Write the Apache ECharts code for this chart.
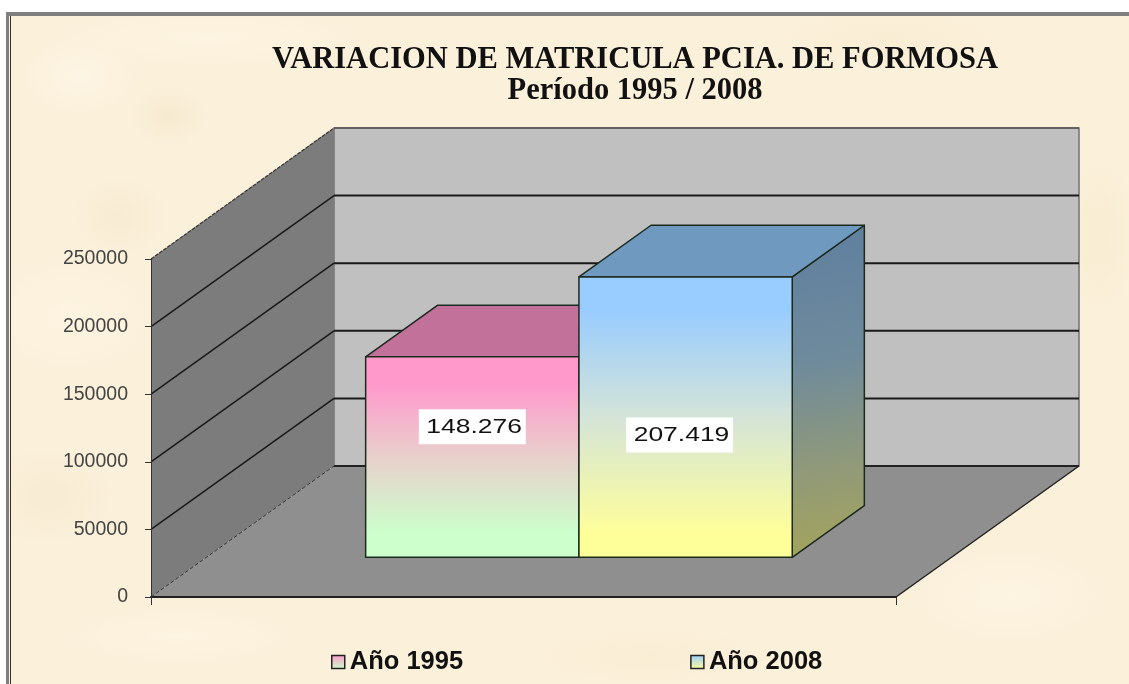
<!DOCTYPE html>
<html><head><meta charset="utf-8">
<style>
html,body{margin:0;padding:0;background:#fff;width:1129px;height:684px;overflow:hidden}
#paper{position:absolute;left:6px;top:12px;width:1123px;height:672px;box-sizing:border-box;
 border-top:4px solid #7f7f7f;border-left:3px solid #7f7f7f;
 background-color:#FBF0DA;
 background-image:
  radial-gradient(ellipse 40px 30px at 160px 100px,rgba(238,224,192,.4),transparent),
  radial-gradient(ellipse 60px 40px at 70px 60px,rgba(255,250,238,.5),transparent),
  radial-gradient(ellipse 50px 40px at 110px 200px,rgba(240,226,195,.35),transparent),
  radial-gradient(ellipse 90px 60px at 60px 300px,rgba(255,248,232,.5),transparent),
  radial-gradient(ellipse 120px 30px at 170px 620px,rgba(255,248,232,.5),transparent),
  radial-gradient(ellipse 70px 50px at 40px 480px,rgba(240,226,195,.35),transparent),
  radial-gradient(ellipse 40px 90px at 1090px 220px,rgba(245,232,200,.45),transparent),
  radial-gradient(ellipse 100px 50px at 1000px 580px,rgba(255,250,238,.4),transparent),
  radial-gradient(ellipse 140px 30px at 640px 640px,rgba(246,232,202,.35),transparent),
  radial-gradient(ellipse 160px 30px at 200px 22px,rgba(255,248,232,.5),transparent),
  radial-gradient(ellipse 130px 30px at 880px 22px,rgba(246,232,202,.4),transparent);
}
#paper:before{content:"";position:absolute;left:1px;top:0;bottom:0;width:1px;background:#333}
#chart{position:absolute;left:0;top:0;width:1129px;height:684px}
</style>
<script src="https://cdn.jsdelivr.net/npm/echarts@6/dist/echarts.min.js"></script>
</head><body>
<div id="paper"></div>
<div id="chart"></div>
<script>
const titleText = 'VARIACION DE MATRICULA PCIA. DE FORMOSA';
const subtitleText = 'Período 1995 / 2008';
const categories = [''];
const yTicks = [0, 50000, 100000, 150000, 200000, 250000];
const seriesNames = ['Año 1995', 'Año 2008'];
const values1995 = [148276];
const values2008 = [207419];
const labels1995 = ['148.276'];
const labels2008 = ['207.419'];

const DX = 183, DY = -131;
const BAR_W = 0.2863, D0 = 0.303, D1 = 0.697;
const LG = (x0,y0,x1,y1,stops) => new echarts.graphic.LinearGradient(x0,y0,x1,y1,stops.map((c,i)=>({offset:c[0],color:c[1]})));

const pinkFront = () => LG(0,0,0,1,[[0,'#FF99CC'],[0.14,'#FF99CC'],[0.5,'#E8D0CC'],[0.88,'#CCFFCC'],[1,'#CCFFCC']]);
const blueFront = () => LG(0,0,0,1,[[0,'#99CCFF'],[0.12,'#99CCFF'],[0.5,'#D4E4D8'],[0.92,'#FFFF99'],[1,'#FFFF99']]);

function projector(api){
  const bw = api.size([1,0])[0];
  return (fx, v, d) => {
    const c = api.coord([0, v]);
    return [c[0] + (fx-0.5)*bw + d*DX, c[1] + d*DY];
  };
}
function poly(points, style, z2){
  return {type:'polygon', shape:{points}, style, z2:z2||0, silent:true};
}
function line(a,b,stroke,w,dash){
  return {type:'line', shape:{x1:a[0],y1:a[1],x2:b[0],y2:b[1]}, style:{stroke,lineWidth:w,lineDash:dash||null}, silent:true};
}
function renderWalls(params, api){
  const v = api.value(0), P = projector(api), top = yTicks[yTicks.length-1];
  const ch = [];
  if (v === 0){
    ch.push(poly([P(0,top,1),P(1,top,1),P(1,0,1),P(0,0,1)],{fill:'#C0C0C0',stroke:'#707070',lineWidth:1.5}));
    ch.push(poly([P(0,top,0),P(0,top,1),P(0,0,1),P(0,0,0)],{fill:'#7C7C7C'}));
    ch.push(poly([P(0,0,0),P(0,0,1),P(1,0,1),P(1,0,0)],{fill:'#8F8F8F'}));
    ch.push(line(P(0,0,0),P(0,0,1),'#333',1,[4,2]));
    ch.push(line(P(1,0,0),P(1,0,1),'#222',1.5));
    ch.push(line(P(0,0,1),P(1,0,1),'#222',2));
  } else if (v === top){
    ch.push(line(P(0,v,0),P(0,v,1),'#333',1.2,[4,1]));
    ch.push(line(P(0,v,1),P(1,v,1),'#555',1.5));
  } else {
    ch.push(line(P(0,v,0),P(0,v,1),'#1a1a1a',1.5));
    ch.push(line(P(0,v,1),P(1,v,1),'#1a1a1a',2));
  }
  return {type:'group', children:ch};
}
function barRenderer(x0, x1, front, topFill, sideFill, labelOf, lx, ly){
  return function(params, api){
    const v = api.value(1), P = projector(api), edge = {stroke:'#1c2a1c',lineWidth:1.5,lineJoin:'round'};
    const ch = [
      poly([P(x1,0,D0),P(x1,0,D1),P(x1,v,D1),P(x1,v,D0)],Object.assign({fill:sideFill()},edge)),
      poly([P(x0,v,D0),P(x0,v,D1),P(x1,v,D1),P(x1,v,D0)],Object.assign({fill:topFill},edge)),
      poly([P(x0,v,D0),P(x1,v,D0),P(x1,0,D0),P(x0,0,D0)],Object.assign({fill:front()},edge))
    ];
    const c = P((x0+x1)/2, v, D0);
    ch.push({type:'text', x:c[0]+lx, y:c[1]+ly, scaleX:1.26, silent:true,
      style:{text:labelOf[params.dataIndex], fill:'#111', fontFamily:'"Liberation Sans",Arial,sans-serif', fontSize:21,
        align:'center', verticalAlign:'middle', backgroundColor:'#fff', padding:[7,3,7,6]}});
    return {type:'group', children:ch};
  };
}
const chart = echarts.init(document.getElementById('chart'), null, {renderer:'canvas'});
chart.setOption({
  animation:false,
  backgroundColor:'transparent',
  title:{
    text:titleText, subtext:subtitleText, left:630, top:40, textAlign:'center', itemGap:0,
    textStyle:{fontFamily:'"Liberation Serif","Times New Roman",serif', fontWeight:'bold', fontSize:30.5, color:'#111'},
    subtextStyle:{fontFamily:'"Liberation Serif","Times New Roman",serif', fontWeight:'bold', fontSize:30.5, color:'#111'}
  },
  legend:{
    left:326, top:644, itemWidth:13, itemHeight:13, itemGap:227, icon:'rect',
    textStyle:{fontFamily:'"Liberation Sans",Arial,sans-serif', fontWeight:'bold', fontSize:25.5, color:'#111'},
    data:[
      {name:seriesNames[0], itemStyle:{color:LG(0,0,0,1,[[0,'#FF99CC'],[1,'#CCFFCC']]),borderColor:'#222',borderWidth:1.5}},
      {name:seriesNames[1], itemStyle:{color:LG(0,0,0,1,[[0,'#99CCFF'],[1,'#FFFF99']]),borderColor:'#222',borderWidth:1.5}}
    ]
  },
  grid:{left:151, right:233, top:259, bottom:87},
  xAxis:{type:'category', data:categories, z:10,
    axisLine:{lineStyle:{color:'#222',width:2}},
    axisTick:{show:true,length:8,lineStyle:{color:'#333',width:1}},
    axisLabel:{show:false}},
  yAxis:{type:'value', min:0, max:250000, interval:50000, z:10,
    axisLine:{show:true,lineStyle:{color:'#333',width:1}},
    axisTick:{show:true,length:6,lineStyle:{color:'#333',width:1}},
    splitLine:{show:false},
    axisLabel:{margin:23, color:'#444', fontSize:19.5, padding:[3,0,0,0], fontFamily:'"Liberation Sans",Arial,sans-serif', formatter:v=>String(v)}},
  series:[
    {type:'custom', name:'walls', silent:true, z:1, data:yTicks.map(v=>[v]), encode:{y:0}, renderItem:renderWalls, clip:false, tooltip:{show:false}},
    {type:'custom', name:seriesNames[0], silent:true, z:2, data:values1995.map((v,i)=>[i,v]), encode:{x:0,y:1}, clip:false,
      renderItem:barRenderer(0.5-BAR_W,0.5,pinkFront,'#C2719B',()=>'#A07090',labels1995,0,70)},
    {type:'custom', name:seriesNames[1], silent:true, z:3, data:values2008.map((v,i)=>[i,v]), encode:{x:0,y:1}, clip:false,
      renderItem:barRenderer(0.5,0.5+BAR_W,blueFront,'#7099C0',()=>LG(0.15,0,0.85,1,[[0,'#5F7F9F'],[0.4,'#6E8A9C'],[0.72,'#90997A'],[1,'#A5A55A']]),labels2008,-6,158)}
  ]
});
</script>
</body></html>
